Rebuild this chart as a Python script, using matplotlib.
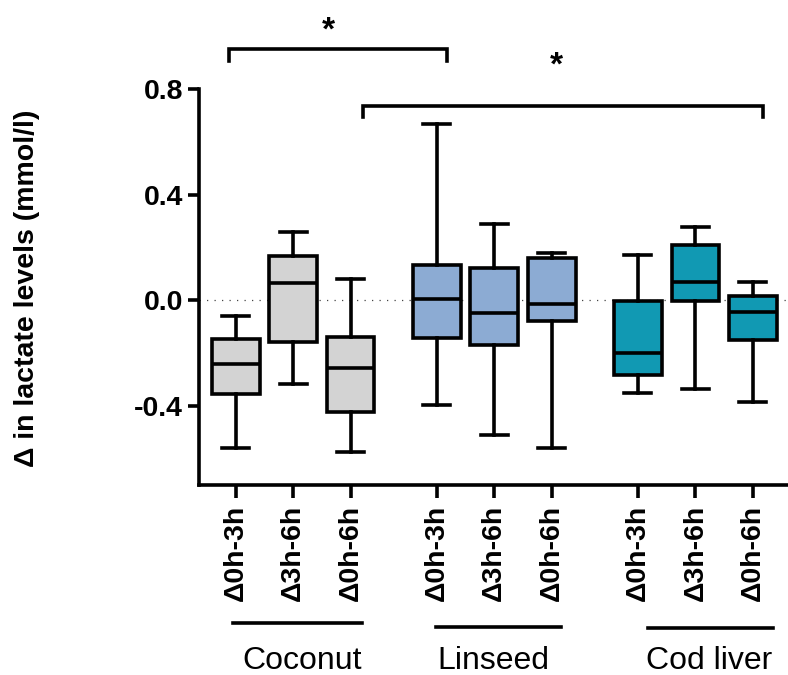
import matplotlib
matplotlib.use("Agg")
import matplotlib.pyplot as plt
import matplotlib.transforms as mtransforms

plt.rcParams['font.family'] = ['Liberation Sans', 'DejaVu Sans']

# ---- data ----
groups = ["Coconut", "Linseed", "Cod liver"]
tick_labels = ["\u03940h-3h", "\u03943h-6h", "\u03940h-6h"]
group_colors = ["#D3D3D3", "#8CABD3", "#1199B3"]

whis_hi = [[-0.061, 0.260, 0.080], [0.668, 0.290, 0.178], [0.170, 0.279, 0.069]]
q3_vals = [[-0.146, 0.168, -0.140], [0.134, 0.123, 0.160], [-0.002, 0.208, 0.015]]
medians = [[-0.240, 0.067, -0.257], [0.005, -0.048, -0.014], [-0.199, 0.070, -0.046]]
q1_vals = [[-0.354, -0.159, -0.423], [-0.144, -0.171, -0.078], [-0.285, -0.002, -0.151]]
whis_lo = [[-0.560, -0.318, -0.576], [-0.398, -0.510, -0.561], [-0.350, -0.337, -0.387]]

LW = 2.6
fig = plt.figure(figsize=(7.88, 6.75), dpi=100)
ax = fig.add_axes([199/788, (675-485)/675, 589/788, 396/675])

positions, stats, colors, xt_labels = [], [], [], []
for g in range(len(groups)):
    for i in range(3):
        positions.append(g*3.5 + i)
        stats.append(dict(med=medians[g][i], q1=q1_vals[g][i], q3=q3_vals[g][i],
                          whislo=whis_lo[g][i], whishi=whis_hi[g][i], fliers=[]))
        colors.append(group_colors[g])
        xt_labels.append(tick_labels[i])

ax.axhline(0, color='#444444', lw=0.9, ls=(0, (1, 5)), zorder=0)

bp = ax.bxp(stats, positions=positions, widths=0.83, capwidths=0.47,
            patch_artist=True, showfliers=False,
            boxprops=dict(linewidth=LW, edgecolor='black'),
            whiskerprops=dict(linewidth=LW, color='black'),
            capprops=dict(linewidth=LW, color='black'),
            medianprops=dict(linewidth=LW, color='black'))
for patch, c in zip(bp['boxes'], colors):
    patch.set_facecolor(c)

ax.set_xlim(-0.638, 9.61)
ax.set_ylim(-0.7, 0.8)
ax.set_yticks([-0.4, 0.0, 0.4, 0.8])
ax.set_yticklabels(["-0.4", "0.0", "0.4", "0.8"], fontsize=20.5, fontweight='bold')
ax.set_xticks(positions)
ax.set_xticklabels(xt_labels, rotation=90, fontsize=20.5, fontweight='bold')
ax.tick_params(axis='y', length=8, width=LW, pad=3.5)
ax.tick_params(axis='x', length=9, width=LW, pad=5.5)
for s in ['top', 'right']:
    ax.spines[s].set_visible(False)
for s in ['left', 'bottom']:
    ax.spines[s].set_linewidth(LW)

ax.set_ylabel("\u0394 in lactate levels (mmol/l)", fontsize=20.5, fontweight='bold')
ax.yaxis.set_label_coords(-0.27, 0.497)

# significance brackets
def bracket(x0, x1, y, drop, star_x, star_y):
    ax.plot([x0, x0, x1, x1], [y - drop, y, y, y - drop], color='black',
            lw=LW, clip_on=False, solid_joinstyle='miter')
    ax.text(star_x, star_y, "*", fontsize=24, fontweight='bold', ha='center',
            va='center', clip_on=False)

bracket(-0.117, 3.67, 0.951, 0.044, 1.62, 1.02)
bracket(2.22, 9.17, 0.736, 0.043, 5.58, 0.885)

# group underlines and labels
trans = mtransforms.blended_transform_factory(ax.transData, ax.transAxes)
underlines = [(-0.05, 2.2, -0.348), (3.48, 5.66, -0.358), (7.17, 9.35, -0.361)]
label_x = [1.15, 4.49, 8.23]
for (x0, x1, yy), lx, name in zip(underlines, label_x, groups):
    ax.plot([x0, x1], [yy, yy], transform=trans, color='black', lw=LW, clip_on=False)
    ax.text(lx, -0.444, name, transform=trans, fontsize=23, ha='center', va='center')

fig.savefig("out.png", dpi=100)
